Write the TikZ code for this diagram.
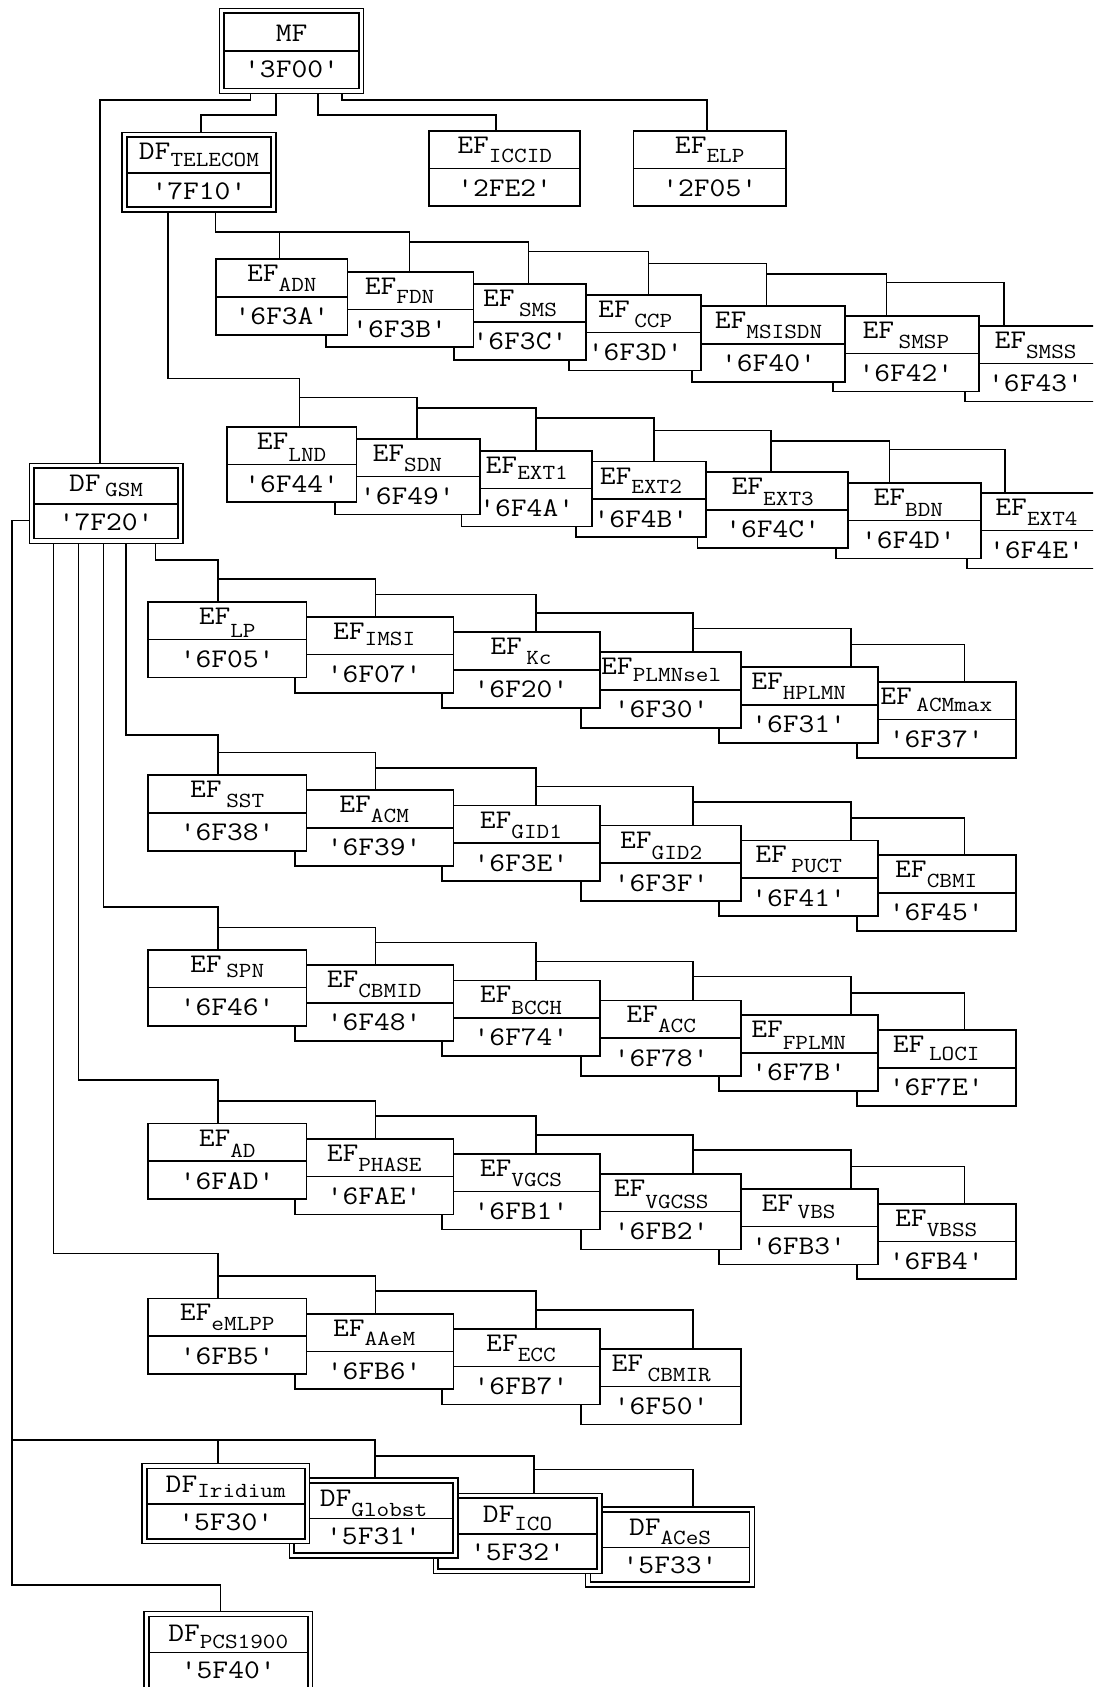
\documentclass[tikz,border=0pt]{standalone}
\usepackage{fontspec}
\usepackage{graphicx}
\newcommand\q{\textquotesingle}
\newcommand\wide[1]{\scalebox{1.14}[1]{#1}}
\newcommand\sub[2][9]{\raisebox{-#1pt}{\fontsize{20}{20}\selectfont\wide{#2}}}
\newcommand\val[1]{\wide{\q#1\q}}
\tikzset{
  cell/.style={draw, fill=white, line width=1.6pt, inner sep=0pt, outer sep=0pt, minimum height=70.3pt},
  dcell/.style={draw, fill=white, line width=1.4pt, inner sep=0pt, outer sep=0pt},
  innerbox/.style={line width=1.6pt},
  divl/.style={line width=1.5pt},
  conn/.style={line width=1.4pt},
  lab/.style={anchor=base, inner sep=0pt, outer sep=0pt},
}
% #1 name, #2 xl, #3 xr, #4 yt, #5 subscript part, #6 value
\newcommand\efbox[6]{%
  \node[cell, minimum width={#3-#2}, anchor=north west] (#1) at (#2,#4) {};
  \draw[divl] ([yshift=-35pt]#1.north west) -- ([yshift=-35pt]#1.north east);
  \node[lab] at ([yshift=-21pt]#1.north) {\wide{EF}#5};
  \node[lab] at ([yshift=-61pt]#1.north) {\val{#6}};
}
% #1 name, #2 xl, #3 xr, #4 yt, #5 height, #6 divider offset, #7 label baseline offset, #8 label, #9 value
\newcommand\dfbox[9]{%
  \node[dcell, minimum width={#3-#2}, minimum height={#5}, anchor=north west] (#1) at (#2,#4) {};
  \draw[innerbox] ([shift={(4.5pt,-4.5pt)}]#1.north west) rectangle ([shift={(-4.5pt,4.5pt)}]#1.south east);
  \draw[divl] ([shift={(4.5pt,-#6pt)}]#1.north west) -- ([shift={(-4.5pt,-#6pt)}]#1.north east);
  \node[lab] at ([yshift=-#7pt]#1.north) {#8};
  \node[lab] at ([yshift={-#6pt-24.5pt}]#1.north) {\val{#9}};
}
% #1 y0, #2 root x, #3 root level, #4..#9 box names
\newcommand\gsmlinks[9]{%
  \draw[conn] (#2,0 |- gsm.south) |- (202.5,#3) -- (202.5,0 |- #4.north);
  \draw[conn] (202.5,#1-21) -| (349,0 |- #5.north);
  \draw[conn] (349,#1-6.8) -| (498,0 |- #6.north);
  \draw[conn] (498,#1+10.6) -| (643.9,0 |- #7.north);
  \draw[conn] (643.9,#1+24.8) -| (791.1,0 |- #8.north);
  \draw[conn] (791.1,#1+39.8) -| (896.4,0 |- #9.north);
}
\begin{document}
\begin{tikzpicture}[x=1pt,y=-1pt,font=\ttfamily\fontsize{25}{25}\selectfont]
\useasboundingbox (0,0) rectangle (1016,1568);
\fill[white] (0,0) rectangle (1016,1568);
\clip (0,0) rectangle (1016,1568);

% ---------- top level ----------
\dfbox{mf}{204}{338}{7.7}{79}{39.7}{31}{\wide{MF}}{3F00}
\dfbox{tel}{113.5}{256.3}{123}{74}{37.8}{25}{\wide{DF}\sub[7]{TELECOM}}{7F10}
\efbox{iccid}{399}{539.1}{121.5}{\sub{ICCID}}{2FE2}
\efbox{elp}{588.7}{730.6}{121.5}{\sub{ELP}}{2F05}
\dfbox{gsm}{27.2}{170}{430.7}{74.3}{37.8}{26.3}{\wide{DF}\,\sub[4.5]{GSM}}{7F20}

% ---------- TELECOM row 1 ----------
\efbox{smss}{897}{1028}{303}{\sub{SMSS}}{6F43}
\efbox{smsp}{774}{910}{293.7}{\,\sub{SMSP}}{6F42}
\efbox{msisdn}{643}{785.6}{284.5}{\sub{MSISDN}}{6F40}
\efbox{ccp}{529}{651.8}{274}{\,\sub{CCP}}{6F3D}
\efbox{sms}{422}{544.6}{264}{\,\sub{SMS}}{6F3C}
\efbox{fdn}{302.8}{440}{252.5}{\sub{FDN}}{6F3B}
\efbox{adn}{201}{323}{241}{\sub{ADN}}{6F3A}

% ---------- TELECOM row 2 ----------
\efbox{ext4}{898.7}{1028}{458}{\sub{EXT4}}{6F4E}
\efbox{bdn}{776.7}{911.9}{448.7}{\sub[10]{BDN}}{6F4D}
\efbox{ext3}{648.2}{788.2}{439}{\sub[10]{EXT3}}{6F4C}
\efbox{ext2}{535.4}{656}{429}{\sub{EXT2}}{6F4B}
\efbox{ext1}{429}{550.2}{419}{\sub[6]{EXT1}}{6F4A}
\efbox{sdn}{311.4}{445.8}{408}{\sub{SDN}}{6F49}
\efbox{lnd}{210.8}{331.3}{396.6}{\sub[11]{LND}}{6F44}

% ---------- GSM row 3 ----------
\pgfmathsetmacro\yo{559.3}
\efbox{acmmax}{796.4}{944}{\yo+74.6}{\,\sub[6]{ACMmax}}{6F37}
\efbox{hplmn}{668.5}{816.1}{\yo+60.7}{\sub{HPLMN}}{6F31}
\efbox{plmnsel}{540.3}{688.8}{\yo+46.8}{\sub[6]{PLMNsel}}{6F30}
\efbox{kc}{410.7}{557.7}{\yo+28.2}{\,\sub{Kc}}{6F20}
\efbox{imsi}{273.9}{421.6}{\yo+14.2}{\sub[5]{IMSI}}{6F07}
\efbox{lp}{137.5}{284.8}{\yo}{\sub[12]{LP}}{6F05}

% ---------- GSM row 4 ----------
\pgfmathsetmacro\yo{720.4}
\efbox{cbmi}{796.4}{944}{\yo+74.6}{\sub{CBMI}}{6F45}
\efbox{puct}{668.5}{816.1}{\yo+60.7}{\,\sub{PUCT}}{6F41}
\efbox{gid2}{540.3}{688.8}{\yo+46.8}{\sub[11]{GID2}}{6F3F}
\efbox{gid1}{410.7}{557.7}{\yo+28.2}{\sub[10]{GID1}}{6F3E}
\efbox{acm}{273.9}{421.6}{\yo+14.2}{\sub{ACM}}{6F39}
\efbox{sst}{137.5}{284.8}{\yo}{\,\sub[9]{SST}}{6F38}

% ---------- GSM row 5 ----------
\pgfmathsetmacro\yo{883}
\efbox{loci}{796.4}{944}{\yo+74.6}{\,\sub[7]{LOCI}}{6F7E}
\efbox{fplmn}{668.5}{816.1}{\yo+60.7}{\sub[11]{FPLMN}}{6F7B}
\efbox{acc}{540.3}{688.8}{\yo+46.8}{\sub{ACC}}{6F78}
\efbox{bcch}{410.7}{557.7}{\yo+28.2}{\sub[11]{BCCH}}{6F74}
\efbox{cbmid}{273.9}{421.6}{\yo+14.2}{\sub{CBMID}}{6F48}
\efbox{spn}{137.5}{284.8}{\yo}{\,\sub[5]{SPN}}{6F46}

% ---------- GSM row 6 ----------
\pgfmathsetmacro\yo{1044.2}
\efbox{vbss}{796.4}{944}{\yo+74.6}{\sub{VBSS}}{6FB4}
\efbox{vbs}{668.5}{816.1}{\yo+60.7}{\,\sub[7]{VBS}}{6FB3}
\efbox{vgcss}{540.3}{688.8}{\yo+46.8}{\sub[11]{VGCSS}}{6FB2}
\efbox{vgcs}{410.7}{557.7}{\yo+28.2}{\sub{VGCS}}{6FB1}
\efbox{phase}{273.9}{421.6}{\yo+14.2}{\sub{PHASE}}{6FAE}
\efbox{ad}{137.5}{284.8}{\yo}{\sub[11]{AD}}{6FAD}

% ---------- GSM row 7 ----------
\pgfmathsetmacro\yo{1206.8}
\efbox{cbmir}{540.3}{688.8}{\yo+46.8}{\,\sub{CBMIR}}{6F50}
\efbox{ecc}{410.7}{557.7}{\yo+28.2}{\sub{ECC}}{6FB7}
\efbox{aaem}{273.9}{421.6}{\yo+14.2}{\sub{AAeM}}{6FB6}
\efbox{emlpp}{137.5}{284.8}{\yo}{\sub{eMLPP}}{6FB5}

% ---------- sub-DFs ----------
\dfbox{aces}{544.4}{701.2}{1400.5}{74.4}{37.8}{27}{\wide{DF}\sub[8]{ACeS}}{5F33}
\dfbox{ico}{402.7}{559.3}{1388.1}{74.4}{37.7}{27}{\wide{DF}\sub[7]{ICO}}{5F32}
\dfbox{glob}{268.9}{425.5}{1373.6}{74.3}{37.6}{27}{\wide{DF}\sub[9]{Globst}}{5F31}
\dfbox{irid}{131.8}{287.8}{1360.3}{74.3}{37.5}{27}{\wide{DF}\sub[5]{Iridium}}{5F30}
\dfbox{pcs}{133.8}{290.5}{1498}{84}{38}{27.8}{\wide{DF}\sub[6]{PCS1900}}{5F40}

% ---------- connectors ----------
\draw[conn] (233,0 |- mf.south) |- (93,93) -- (93,0 |- gsm.north);
\draw[conn] (256.6,0 |- mf.south) |- (186.9,106.9) -- (186.9,0 |- tel.north);
\draw[conn] (295.5,0 |- mf.south) |- (461,106.9) -- (461,0 |- iccid.north);
\draw[conn] (317.7,0 |- mf.south) |- (656.9,93) -- (656.9,0 |- elp.north);

\draw[conn] (200.2,0 |- tel.south) |- (380.8,215.4) -- (380.8,0 |- fdn.north);
\draw[conn] (260,215.4) -- (260,0 |- adn.north);
\draw[conn] (380.8,224.7) -| (491.3,0 |- sms.north);
\draw[conn] (491.3,233.9) -| (602.7,0 |- ccp.north);
\draw[conn] (602.7,244.8) -| (712.5,0 |- msisdn.north);
\draw[conn] (712.5,254.7) -| (824,0 |- smsp.north);
\draw[conn] (824,262.5) -| (933,0 |- smss.north);

\draw[conn] (156,0 |- tel.south) |- (278.2,351.7) -- (278.2,0 |- lnd.north);
\draw[conn] (278.2,369.3) -| (387.7,0 |- sdn.north);
\draw[conn] (387.7,379) -| (498,0 |- ext1.north);
\draw[conn] (498,388.5) -| (607.8,0 |- ext2.north);
\draw[conn] (607.8,400.3) -| (716.7,0 |- ext3.north);
\draw[conn] (716.7,410) -| (826.6,0 |- bdn.north);
\draw[conn] (826.6,417.7) -| (934.2,0 |- ext4.north);

\gsmlinks{559.3}{144.4}{520.5}{lp}{imsi}{kc}{plmnsel}{hplmn}{acmmax}
\gsmlinks{720.4}{117.2}{683.2}{sst}{acm}{gid1}{gid2}{puct}{cbmi}
\gsmlinks{883}{96}{842.8}{spn}{cbmid}{bcch}{acc}{fplmn}{loci}
\gsmlinks{1044.2}{73}{1003.9}{ad}{phase}{vgcs}{vgcss}{vbs}{vbss}
\draw[conn] (49.8,0 |- gsm.south) |- (202.5,1165.1) -- (202.5,0 |- emlpp.north);
\draw[conn] (202.5,1206.8-21) -| (349,0 |- aaem.north);
\draw[conn] (349,1206.8-6.8) -| (498,0 |- ecc.north);
\draw[conn] (498,1206.8+10.6) -| (643.9,0 |- cbmir.north);

\draw[conn] (gsm.west |- 0,484) -| (11,1473.3) -| (204.8,0 |- pcs.north);
\draw[conn] (11,1338.6) -| (348.6,0 |- glob.north);
\draw[conn] (202.5,1338.6) -- (202.5,0 |- irid.north);
\draw[conn] (348.6,1353.2) -| (496.4,0 |- ico.north);
\draw[conn] (496.4,1365.6) -| (643.9,0 |- aces.north);
\end{tikzpicture}
\end{document}
